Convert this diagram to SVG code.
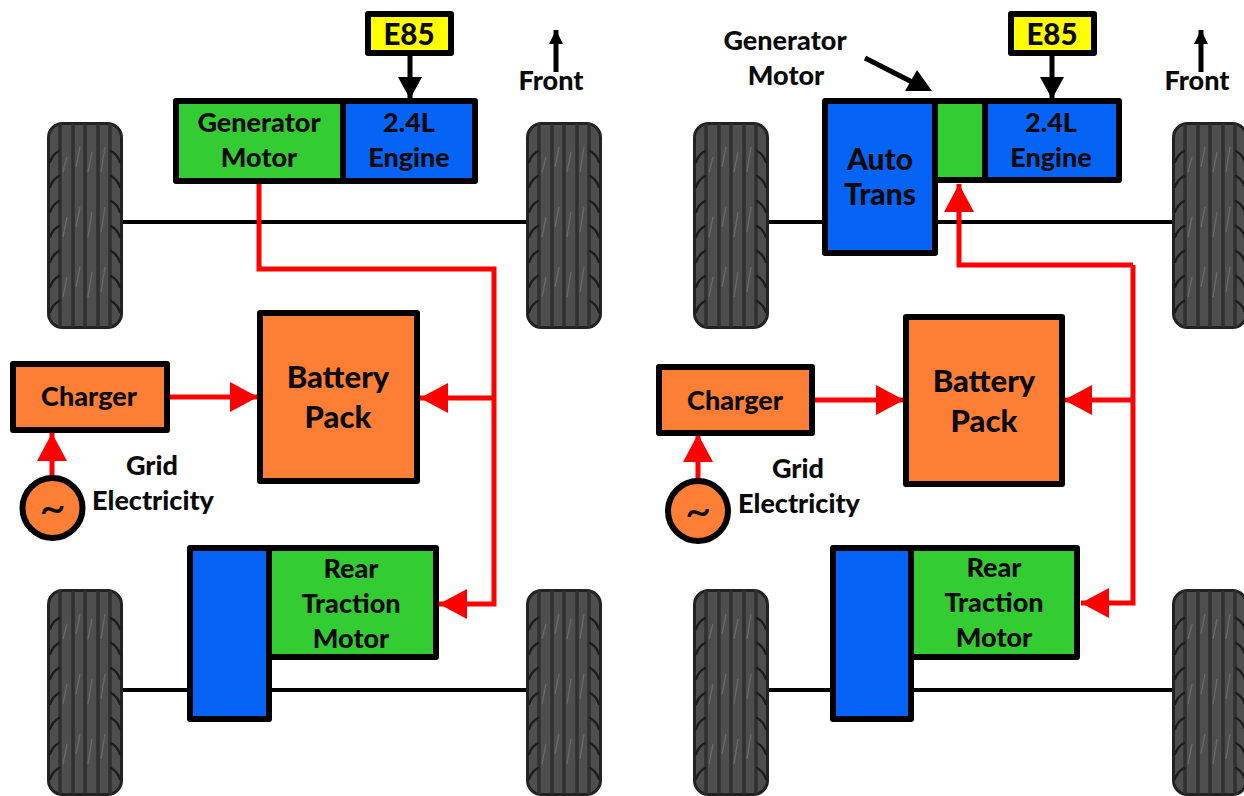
<svg xmlns="http://www.w3.org/2000/svg" xmlns:xlink="http://www.w3.org/1999/xlink" width="1244" height="796" viewBox="0 0 1244 796">
<style>
.b{stroke:#000;stroke-width:6;stroke-linejoin:round}
.o{fill:#fd7e35}.g{fill:#33cc33}.u{fill:#0564f5}.y{fill:#ffff00}
text{font-family:"Lato","Liberation Sans",sans-serif;font-weight:900;font-size:27px;fill:#0a0a0a;text-anchor:middle}
.lg{font-size:31px}
.md{font-size:30px}
.e{font-size:29.500px}
.t{font-size:46px;font-weight:400}
.ax{stroke:#000;stroke-width:4;fill:none}
.rl{stroke:#f00;stroke-width:5;fill:none;stroke-linejoin:miter}
.kl{stroke:#000;stroke-width:5;fill:none}
.gr{stroke:#303030;stroke-width:3.500;fill:none}
.tr{stroke:#6a6a6a;stroke-width:1.300;fill:none}
.ed{stroke:#1c1c1c;stroke-width:2.400;fill:none;stroke-linecap:round}
</style>
<defs>
<marker id="ra" markerUnits="userSpaceOnUse" markerWidth="30" markerHeight="30" refX="28" refY="15" orient="auto"><path d="M0 0L28 15L0 30Z" fill="#f00"/></marker>
<marker id="ka" markerUnits="userSpaceOnUse" markerWidth="26" markerHeight="26" refX="22" refY="12" orient="auto"><path d="M0 0L22 12L0 24Z" fill="#000"/></marker>
<marker id="fa" markerUnits="userSpaceOnUse" markerWidth="16" markerHeight="16" refX="14" refY="7" orient="auto"><path d="M0 0L14 7L0 14Z" fill="#000"/></marker>
<g id="tire">
<rect x="1.500" y="1.500" width="73" height="204" rx="14" fill="#4e4e4e" stroke="#222" stroke-width="3"/>
<path class="gr" d="M13 2V205M26 2V205M38 2V205M51 2V205M63 2V205"/>
<path class="tr" d="M20 35L16 50M33 25L29 45M45 30L41 50M58 25L54 50M20 95L16 115M33 85L29 105M45 90L41 115M58 85L54 110M20 155L16 175M33 145L29 165M45 150L41 175M58 145L54 170"/>
<path class="ed" d="M3 40Q6 32 12 29M3 65Q6 57 12 54M3 90Q6 82 12 79M3 115Q6 107 12 104M3 140Q6 132 12 129M3 165Q6 157 12 154M3 190Q6 182 12 179M73 40Q70 32 64 29M73 65Q70 57 64 54M73 90Q70 82 64 79M73 115Q70 107 64 104M73 140Q70 132 64 129M73 165Q70 157 64 154M73 190Q70 182 64 179"/>
</g>
</defs>
<rect width="1244" height="796" fill="#fff"/>

<g id="axles">
<path class="ax" d="M123 222H526M123 690H526M769 222H1172M769 690H1172"/>
</g>
<g id="tires">
<use href="#tire" xlink:href="#tire" x="47" y="122"/>
<use href="#tire" xlink:href="#tire" x="526" y="122"/>
<use href="#tire" xlink:href="#tire" x="47" y="589"/>
<use href="#tire" xlink:href="#tire" x="526" y="589"/>
<use href="#tire" xlink:href="#tire" x="693" y="122"/>
<use href="#tire" xlink:href="#tire" x="1172" y="122"/>
<use href="#tire" xlink:href="#tire" x="693" y="589"/>
<use href="#tire" xlink:href="#tire" x="1172" y="589"/>
</g>

<g id="connectors">
<path class="rl" d="M259 181V269H494V604H439" marker-end="url(#ra)"/>
<path class="rl" d="M494 398H420" marker-end="url(#ra)"/>
<path class="rl" d="M168 397H258" marker-end="url(#ra)"/>
<path class="rl" d="M52 480V433" marker-end="url(#ra)"/>
<path class="kl" d="M410 54V99" marker-end="url(#ka)"/>
<path class="kl" d="M556 72V30" marker-end="url(#fa)"/>
<path class="rl" d="M1133 265V603H1081" marker-end="url(#ra)"/>
<path class="rl" d="M1133 265H959V184" marker-end="url(#ra)"/>
<path class="rl" d="M1133 400H1064" marker-end="url(#ra)"/>
<path class="rl" d="M814 400H904" marker-end="url(#ra)"/>
<path class="rl" d="M698 484V434" marker-end="url(#ra)"/>
<path class="kl" d="M1052 54V99" marker-end="url(#ka)"/>
<path class="kl" d="M1201 72V30" marker-end="url(#fa)"/>
<path class="kl" d="M865 58L914 83"/>
<path d="M932 91H905L917 70Z" fill="#000"/>
</g>

<g id="l-e85"><rect class="b y" x="368" y="14" width="83" height="39"/><text class="e" x="409" y="45">E85</text></g>
<g id="l-generator"><rect class="b g" x="176" y="101" width="167" height="80"/><text x="259" y="132">Generator</text><text x="259" y="167">Motor</text></g>
<g id="l-engine"><rect class="b u" x="343" y="101" width="132" height="80"/><text x="409" y="132">2.4L</text><text x="409" y="167">Engine</text></g>
<g id="l-front"><text x="551" y="90">Front</text></g>
<g id="l-battery"><rect class="b o" x="260" y="313" width="157" height="168"/><text class="lg" x="338" y="388">Battery</text><text class="lg" x="338" y="428">Pack</text></g>
<g id="l-charger"><rect class="b o" x="13" y="364" width="154" height="66"/><text x="89" y="406">Charger</text></g>
<g id="l-grid-source"><circle class="b o" cx="52.500" cy="508" r="30"/><text class="t" x="52.500" y="524">~</text></g>
<g id="l-grid"><text x="152" y="475">Grid</text><text x="153" y="510">Electricity</text></g>
<g id="l-diff"><rect class="b u" x="190" y="548" width="79" height="171"/></g>
<g id="l-rear"><rect class="b g" x="269" y="548" width="167" height="109"/><text x="351" y="578">Rear</text><text x="351" y="613">Traction</text><text x="351" y="648">Motor</text></g>

<g id="r-e85"><rect class="b y" x="1011" y="14" width="83" height="39"/><text class="e" x="1052" y="45">E85</text></g>
<g id="r-generator-label"><text x="785" y="50">Generator</text><text x="786" y="85">Motor</text></g>
<g id="r-trans"><rect class="b u" x="825" y="101" width="110" height="152"/><text class="md" x="880" y="170">Auto</text><text class="md" x="880" y="205">Trans</text></g>
<g id="r-generator"><rect class="b g" x="935" y="101" width="50" height="79"/></g>
<g id="r-engine"><rect class="b u" x="985" y="101" width="134" height="79"/><text x="1051" y="132">2.4L</text><text x="1051" y="167">Engine</text></g>
<g id="r-front"><text x="1197" y="90">Front</text></g>
<g id="r-battery"><rect class="b o" x="906" y="317" width="156" height="167"/><text class="lg" x="984" y="392">Battery</text><text class="lg" x="984" y="432">Pack</text></g>
<g id="r-charger"><rect class="b o" x="659" y="367" width="153" height="66"/><text x="735" y="410">Charger</text></g>
<g id="r-grid-source"><circle class="b o" cx="698" cy="511" r="30"/><text class="t" x="698" y="527">~</text></g>
<g id="r-grid"><text x="798" y="478">Grid</text><text x="799" y="513">Electricity</text></g>
<g id="r-diff"><rect class="b u" x="833" y="548" width="78" height="171"/></g>
<g id="r-rear"><rect class="b g" x="911" y="548" width="166" height="109"/><text x="994" y="577">Rear</text><text x="994" y="612">Traction</text><text x="994" y="647">Motor</text></g>
</svg>
